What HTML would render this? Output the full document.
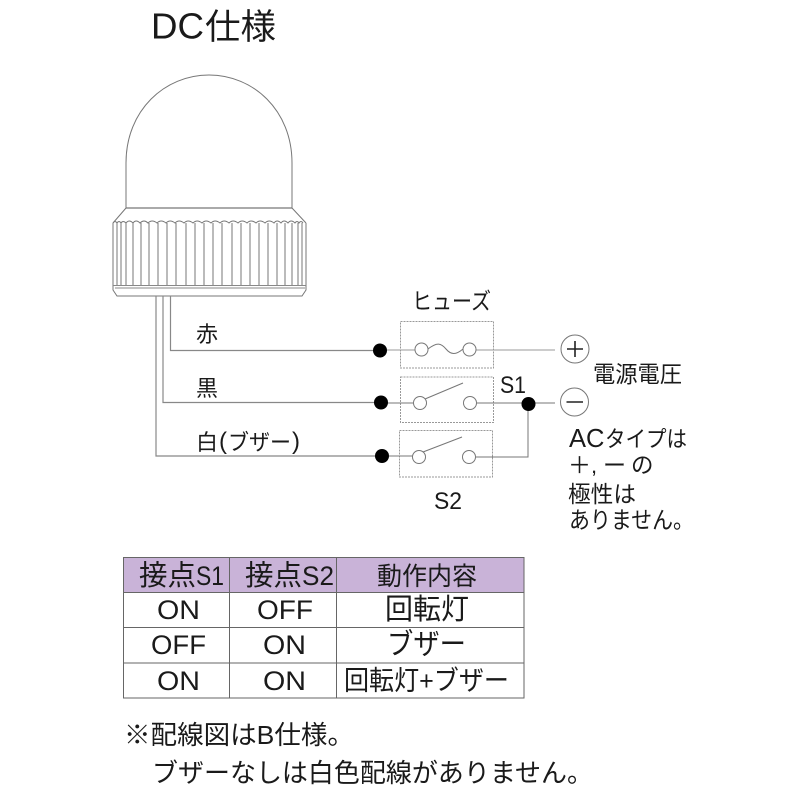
<!DOCTYPE html>
<html><head><meta charset="utf-8"><style>
html,body{margin:0;padding:0;background:#fff}
svg{display:block}
text{font-family:"Liberation Sans","Noto Sans CJK JP",sans-serif;fill:#1a1a1a}
</style></head><body>
<svg width="800" height="800" viewBox="0 0 800 800" xmlns="http://www.w3.org/2000/svg">
<rect width="800" height="800" fill="#fff"/>
<text x="151" y="38.500" font-size="36" textLength="53" lengthAdjust="spacingAndGlyphs">DC</text>
<text x="205" y="39" font-size="35" textLength="71" lengthAdjust="spacingAndGlyphs">仕様</text>

<!-- lamp -->
<g fill="none" stroke="#777" stroke-width="1">
<path d="M126 208V163C126 110 165 75 209 75C253 75 292 110 292 163V208"/>
<path d="M126 208H292" stroke-width="1.3"/>
<path d="M126 208L113 223M292 208L306 223"/>
<path d="M113 223V290L117 296H302L306 290V223"/>
<path d="M113 285.500H306M115 288H305" stroke="#888"/>
<path d="M113 223 q2 -3 4 0 q2 -3 4 0 q2 -3 5 0 q3 -4 7 0 q3 -4 7 0 q4 -4 8 0 q4 -4 9 0 q4 -4 9 0 q4 -4 9 0 q4 -4 9 0 q4 -4 9 0 q4 -4 9 0 q4 -4 9 0 q4 -4 9 0 q4 -4 9 0 q4 -4 9 0 q4 -4 9 0 q4 -4 9 0 q4 -4 9 0 q4 -4 9 0 q3 -4 7 0 q3 -4 7 0 q3 -4 7 0 q2 -3 4 0 q2 -3 4 0"/>
<path d="M117 223V285M121 223V285M126 223V285M133 223V285M141 223V285M149 223V285M158 223V285M167 223V285M176 223V285M186 223V285M195 223V285M204 223V285M213 223V285M222 223V285M232 223V285M241 223V285M250 223V285M259 223V285M268 223V285M277 223V285M285 223V285M292 223V285M298 223V285M302 223V285"/>
</g>

<!-- wires -->
<g fill="none" stroke="#888" stroke-width="1.200">
<path d="M170.500 296V350.500H375"/>
<path d="M163 296V402.500H375"/>
<path d="M156 296V456H377"/>
</g>
<text x="196" y="342" font-size="22">赤</text>
<text x="196" y="396" font-size="22">黒</text>
<text x="196" y="450" font-size="22">白</text>
<text x="219" y="449" font-size="24">(</text>
<text x="228" y="450" font-size="22" textLength="63" lengthAdjust="spacingAndGlyphs">ブザー</text>
<text x="292" y="449" font-size="24">)</text>

<!-- boxes -->
<g fill="none" stroke="#999" stroke-width="1" stroke-dasharray="2 1">
<rect x="400.500" y="321.500" width="93" height="46.500"/>
<rect x="400.500" y="377" width="93" height="45.500"/>
<rect x="399.500" y="430.500" width="93" height="46.500"/>
</g>
<g fill="none" stroke="#777" stroke-width="1">
<path d="M380 350H415M475 350H555" stroke="#999"/>
<path d="M428 349C437 342 441 343 446 349C451 355 456 355 463 349"/>
<path d="M381 403H414M477 403H522M534 403H555"/>
<path d="M382 456H413M476 457H528V403"/>
<path d="M425 399L463 383M423 452L462 437"/>
<circle cx="421.500" cy="349.500" r="6.500" fill="#fff"/>
<circle cx="469.500" cy="349.500" r="6.500" fill="#fff"/>
<circle cx="420" cy="403" r="6.500" fill="#fff"/>
<circle cx="470" cy="403" r="6.500" fill="#fff"/>
<circle cx="419" cy="457" r="6.500" fill="#fff"/>
<circle cx="469" cy="457" r="6.500" fill="#fff"/>
<circle cx="575" cy="349" r="14" fill="#fff"/>
<circle cx="574.500" cy="402" r="14" fill="#fff"/>
</g>
<path d="M567 349H583M575 341V357M566.500 402H583" stroke="#222" stroke-width="1.600" fill="none"/>
<g fill="#000">
<circle cx="380" cy="350.500" r="7"/>
<circle cx="381" cy="402.500" r="7"/>
<circle cx="382" cy="456" r="7"/>
<circle cx="528.500" cy="404" r="7"/>
</g>
<text x="412" y="309" font-size="23" textLength="79" lengthAdjust="spacingAndGlyphs">ヒューズ</text>
<text x="500" y="393" font-size="24" textLength="26" lengthAdjust="spacingAndGlyphs">S1</text>
<text x="434" y="509" font-size="24" textLength="28" lengthAdjust="spacingAndGlyphs">S2</text>
<text x="593" y="382" font-size="23" textLength="89" lengthAdjust="spacingAndGlyphs">電源電圧</text>
<text x="569" y="447" font-size="25.500">AC</text>
<text x="605" y="447" font-size="22.500" textLength="82" lengthAdjust="spacingAndGlyphs">タイプは</text>
<text x="568" y="473" font-size="23">＋</text>
<text x="591" y="473" font-size="22">,</text>
<text x="603" y="473" font-size="23">ー</text>
<text x="631" y="473" font-size="22.500">の</text>
<text x="568" y="502" font-size="23" textLength="68" lengthAdjust="spacingAndGlyphs">極性は</text>
<text x="569" y="528" font-size="23.500" textLength="125" lengthAdjust="spacingAndGlyphs">ありません。</text>

<!-- table -->
<rect x="123" y="557" width="401" height="35" fill="#c9b3d8"/>
<g fill="none" stroke="#666" stroke-width="1">
<rect x="123.500" y="557.500" width="400.500" height="140.500"/>
<path d="M123 592.500H524M123 627.500H524M123 663H524M229.500 557V698M336.500 557V698"/>
</g>
<g font-size="29">
<text x="139" y="585" font-size="28.500">接点</text>
<text x="196" y="585" font-size="27" textLength="28" lengthAdjust="spacingAndGlyphs">S1</text>
<text x="245" y="585" font-size="28.500">接点</text>
<text x="302" y="585" font-size="27" textLength="32" lengthAdjust="spacingAndGlyphs">S2</text>
<text x="377" y="585" font-size="25.500" textLength="100" lengthAdjust="spacingAndGlyphs">動作内容</text>
<text x="157" y="619" font-size="27" textLength="43" lengthAdjust="spacingAndGlyphs">ON</text>
<text x="257" y="619" font-size="27" textLength="56" lengthAdjust="spacingAndGlyphs">OFF</text>
<text x="385" y="619" textLength="84" lengthAdjust="spacingAndGlyphs">回転灯</text>
<text x="151" y="654" font-size="27" textLength="55" lengthAdjust="spacingAndGlyphs">OFF</text>
<text x="263" y="654" font-size="27" textLength="43" lengthAdjust="spacingAndGlyphs">ON</text>
<text x="387" y="654" textLength="79" lengthAdjust="spacingAndGlyphs">ブザー</text>
<text x="157" y="690" font-size="27" textLength="43" lengthAdjust="spacingAndGlyphs">ON</text>
<text x="263" y="690" font-size="27" textLength="43" lengthAdjust="spacingAndGlyphs">ON</text>
<text x="344" y="690" font-size="27" textLength="165" lengthAdjust="spacingAndGlyphs">回転灯+ブザー</text>
</g>

<text x="124" y="744" font-size="26" textLength="230" lengthAdjust="spacingAndGlyphs">※配線図はB仕様。</text>
<text x="152" y="782" font-size="26" textLength="441" lengthAdjust="spacingAndGlyphs">ブザーなしは白色配線がありません。</text>
</svg>
</body></html>
